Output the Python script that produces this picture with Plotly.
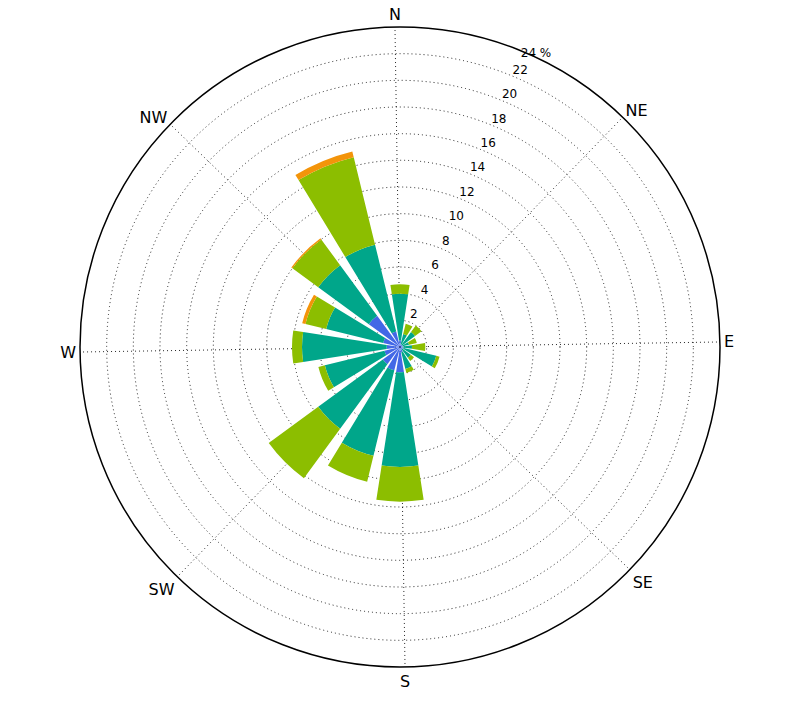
"""Wind rose: frequency (%) by direction, stacked by speed class."""

import plotly.graph_objects as go

directions = ["N", "NNE", "NE", "ENE", "E", "ESE", "SE", "SSE",
              "S", "SSW", "SW", "WSW", "W", "WNW", "NW", "NNW"]
angles = [0, 22.5, 45, 67.5, 90, 112.5, 135, 157.5,
          180, 202.5, 225, 247.5, 270, 292.5, 315, 337.5]

# frequency (%) per speed class, not cumulative
blue = [0.5, 0.2, 0.2, 0.2, 0.2, 0.3, 0.2, 0.4,
        1.9, 1.8, 1.6, 1.2, 1.0, 1.3, 2.9, 1.2]
teal = [3.5, 0.8, 1.2, 0.5, 0.7, 2.5, 0.8, 1.3,
        7.1, 6.6, 6.0, 4.6, 6.35, 4.4, 4.7, 6.7]
green = [0.7, 0.8, 0.6, 0.6, 1.0, 0.25, 0.3, 0.3,
         2.6, 2.0, 4.6, 0.5, 0.75, 1.6, 2.4, 6.75]
orange = [0, 0, 0, 0, 0, 0, 0, 0,
          0, 0, 0, 0, 0, 0.25, 0.1, 0.45]

compass_vals = [0, 45, 90, 135, 180, 225, 270, 315]
compass_text = ["N", "NE", "E", "SE", "S", "SW", "W", "NW"]
r_ticks = [2, 4, 6, 8, 10, 12, 14, 16, 18, 20, 22, 24]
r_text = ["2", "4", "6", "8", "10", "12", "14", "16", "18", "20", "22", "24 %"]

series = [
    ("blue", blue, "rgb(66,104,230)"),
    ("teal", teal, "rgb(0,166,138)"),
    ("green", green, "rgb(140,190,0)"),
    ("orange", orange, "rgb(243,148,10)"),
]

# the grid in the source is turned ~0.9 deg anticlockwise relative to the bars
grid_skew = -0.9

fig = go.Figure()
for name, vals, color in series:
    fig.add_trace(
        go.Barpolar(
            r=vals,
            theta=angles,
            width=[17.6] * len(angles),
            name=name,
            marker_color=color,
            marker_line_width=0,
            opacity=1,
        )
    )

# inner radial labels sit just outside each ring, along a ~23.5 deg bearing;
# the outermost one ("24 %") lies beyond the range, so the axis draws it
fig.add_trace(
    go.Scatterpolar(
        r=[t + 0.6 for t in r_ticks[:-1]],
        theta=[23.5] * (len(r_ticks) - 1),
        text=r_text[:-1],
        mode="text",
        textposition="middle center",
        textfont=dict(family="DejaVu Sans", size=12, color="black"),
        cliponaxis=False,
        hoverinfo="skip",
    )
)

dots = "1px,3px"
fig.update_layout(
    width=800,
    height=707,
    showlegend=False,
    paper_bgcolor="white",
    font=dict(family="DejaVu Sans", color="black"),
    margin=dict(l=72, r=88, t=19, b=48),
    polar=dict(
        bgcolor="white",
        barmode="stack",
        angularaxis=dict(
            direction="clockwise",
            rotation=90,
            tickmode="array",
            tickvals=[(v + grid_skew) % 360 for v in compass_vals],
            ticktext=compass_text,
            tickfont=dict(size=16, color="black"),
            ticks="",
            showline=True,
            linecolor="black",
            linewidth=1.5,
            showgrid=True,
            gridcolor="rgba(0,0,0,0.85)",
            gridwidth=1,
            griddash=dots,
        ),
        radialaxis=dict(
            range=[0, 24],
            tickmode="array",
            tickvals=r_ticks,
            ticktext=[""] * (len(r_ticks) - 1) + [r_text[-1]],
            tickfont=dict(size=12, color="black"),
            angle=69,
            tickangle=69,
            ticks="",
            showline=False,
            showgrid=True,
            gridcolor="rgba(0,0,0,0.85)",
            gridwidth=1,
            griddash=dots,
        ),
    ),
)

fig.write_html("out.html")
